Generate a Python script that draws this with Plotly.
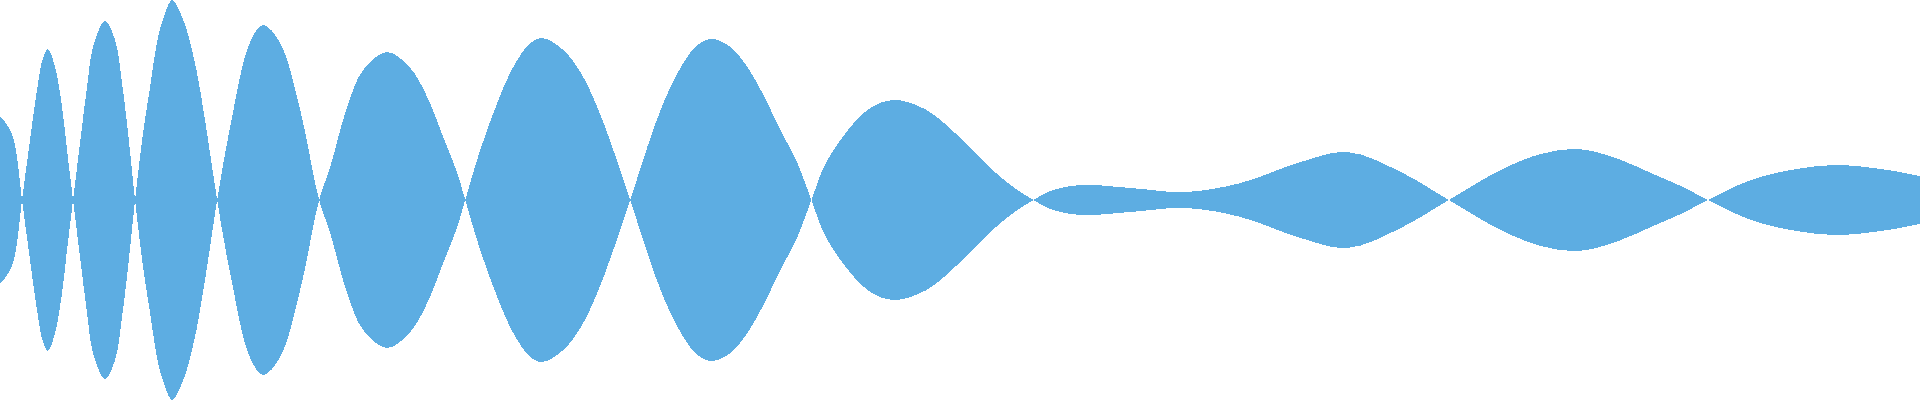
import plotly.graph_objects as go

# sample positions (px along the track) and signed amplitude at each
t = [0, 5, 10, 15, 22,
     30, 37, 43, 48, 55, 62, 67, 73,
     80, 87, 93, 105, 115, 122, 128, 135,
     143, 150, 158, 165, 172, 182, 192, 200, 208, 217,
     230, 250, 263, 280, 300, 319,
     330, 347, 363, 387, 410, 427, 443, 457, 465,
     480, 497, 513, 530, 542, 563, 580, 597, 613, 630,
     647, 663, 680, 697, 712, 730, 747, 763, 780, 797, 811,
     827, 867, 893, 920, 940, 1000, 1020, 1033,
     1050, 1080, 1130, 1185, 1240, 1300, 1347, 1400, 1448,
     1500, 1540, 1577, 1615, 1650, 1680, 1707,
     1750, 1790, 1833, 1880, 1919]
amp = [84, 78, 70, 55, 0,
       -60, -110, -142, -151, -133, -93, -50, 0,
       57, 113, 153, 179, 160, 117, 67, 0,
       -67, -113, -163, -187, -200, -183, -150, -110, -60, 0,
       73, 158, 175, 157, 90, 0,
       -33, -93, -130, -148, -132, -103, -63, -27, 0,
       50, 97, 133, 157, 162, 150, 128, 93, 50, 0,
       -53, -97, -132, -155, -161, -153, -133, -105, -70, -37, 0,
       40, 90, 100, 93, 80, 23, 8, 0,
       -9, -15, -12, -8, -17, -38, -48, -28, 0,
       30, 46, 51, 42, 27, 14, 0,
       -20, -30, -35, -31, -24]
neg = [-a for a in amp]

color = '#5DADE2'

fig = go.Figure()
fig.add_trace(go.Scatter(x=t, y=amp, mode='lines',
                         line=dict(width=0, shape='spline', color=color),
                         hoverinfo='skip'))
fig.add_trace(go.Scatter(x=t, y=neg, mode='lines', fill='tonexty',
                         fillcolor=color,
                         line=dict(width=0, shape='spline', color=color),
                         hoverinfo='skip'))

fig.update_layout(
    width=1920,
    height=400,
    margin=dict(l=0, r=0, t=0, b=0),
    showlegend=False,
    plot_bgcolor='white',
    paper_bgcolor='white',
    xaxis=dict(visible=False, range=[0, 1919]),
    yaxis=dict(visible=False, range=[-200, 200]),
)

# reference edges are not anti-aliased
js = ("document.body.style.margin='0';"
      "document.querySelectorAll('.js-fill').forEach(function(p){"
      "p.style.shapeRendering='crispEdges';});")

fig.write_html("out.html", config={'displayModeBar': False}, post_script=js)
